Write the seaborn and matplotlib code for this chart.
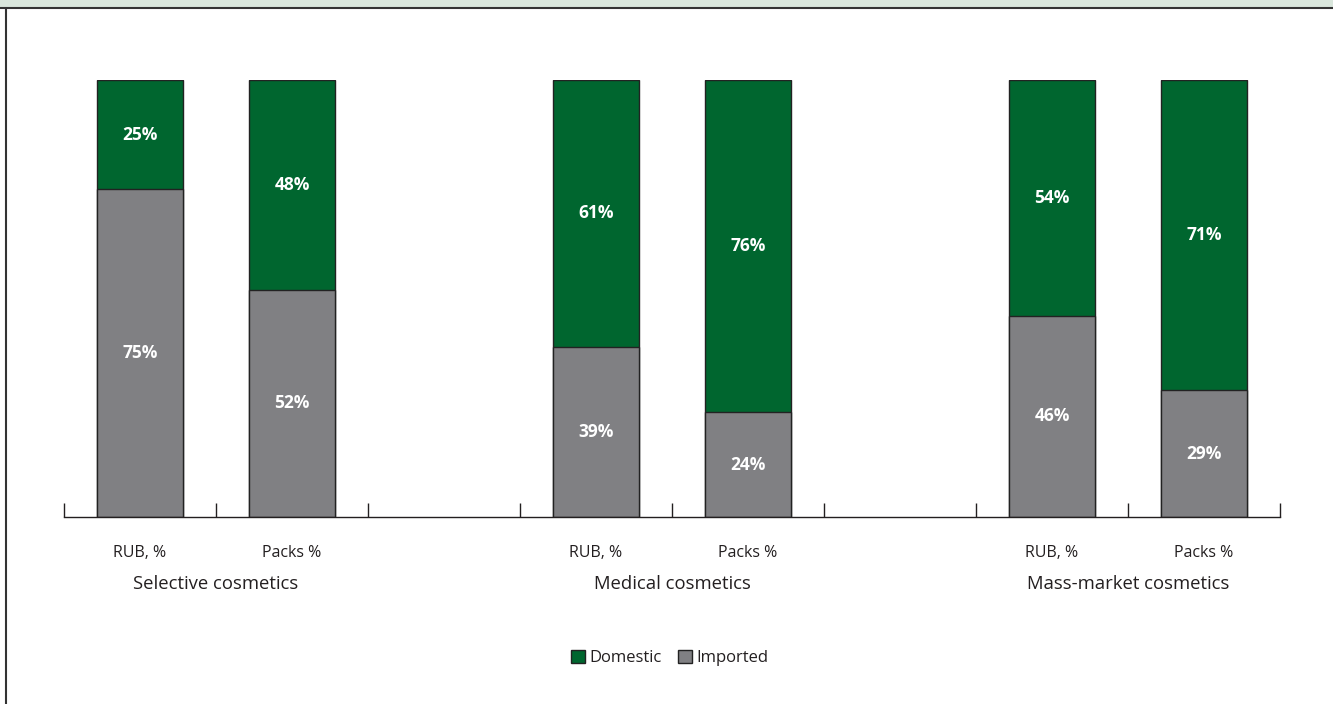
import numpy as np
import pandas as pd
import matplotlib.pyplot as plt
import seaborn as sns
from matplotlib.patches import Patch, Rectangle
from matplotlib.lines import Line2D

# data
groups = ['Selective cosmetics', 'Medical cosmetics', 'Mass-market cosmetics']
measures = ['RUB, %', 'Packs %']
domestic = [25, 48, 61, 76, 54, 71]
imported = [75, 52, 39, 24, 46, 29]

green = '#00662f'
grey = '#808083'
edge = '#222222'
txt = '#231f20'

sns.set_theme(style='white')
plt.rcParams['font.family'] = ['Open Sans', 'DejaVu Sans']

rows = []
i = 0
for g_i, g in enumerate(groups):
    for m_i, m in enumerate(measures):
        rows.append({'group': g, 'measure': m, 'pos': g_i * 3 + m_i,
                     'domestic': domestic[i], 'imported': imported[i],
                     'total': domestic[i] + imported[i]})
        i += 1
df = pd.DataFrame(rows)

fig = plt.figure(figsize=(13.33, 7.04), dpi=100)
ax = fig.add_axes([64 / 1333, 187 / 704, 1216 / 1333, 437 / 704])

# full stack in green, imported part drawn over it in grey
sns.barplot(data=df, x='pos', y='total', native_scale=True, width=0.566,
            color=green, edgecolor=edge, linewidth=1, saturation=1, ax=ax)
sns.barplot(data=df, x='pos', y='imported', native_scale=True, width=0.566,
            color=grey, edgecolor=edge, linewidth=1, saturation=1, ax=ax)

for _, r in df.iterrows():
    ax.text(r['pos'], r['imported'] / 2, f"{r['imported']}%", ha='center', va='center',
            color='white', fontsize=12.5, fontweight='bold')
    ax.text(r['pos'], r['imported'] + r['domestic'] / 2, f"{r['domestic']}%", ha='center',
            va='center', color='white', fontsize=12.5, fontweight='bold')
    ax.text(r['pos'], -8.2, r['measure'], ha='center', va='center', color=txt, fontsize=11.5)

for g_i, g in enumerate(groups):
    ax.text(g_i * 3 + 0.5, -15.3, g, ha='center', va='center', color=txt, fontsize=13.3)

ax.set_xlim(-0.5, 7.5)
ax.set_ylim(0, 100)
ax.set_xticks(np.arange(-0.5, 8, 1))
ax.set_xticklabels([])
ax.set_yticks([])
ax.tick_params(axis='x', direction='in', length=10, width=1, color=txt, bottom=True)
ax.set_xlabel('')
ax.set_ylabel('')
for s in ['top', 'right', 'left']:
    ax.spines[s].set_visible(False)
ax.spines['bottom'].set_color(txt)
ax.spines['bottom'].set_linewidth(1)

# header band and left frame line
fig.patches.append(Rectangle((0, 1 - 7 / 704), 1, 7 / 704, transform=fig.transFigure,
                             facecolor='#d9e6dc', edgecolor='none'))
fig.lines.append(Line2D([0, 1], [1 - 7.5 / 704] * 2, transform=fig.transFigure,
                        color='#333333', linewidth=1.5))
fig.lines.append(Line2D([5.5 / 1333] * 2, [0, 1 - 7.5 / 704], transform=fig.transFigure,
                        color='#333333', linewidth=1.5))

handles = [Patch(facecolor=green, edgecolor=edge, label='Domestic'),
           Patch(facecolor=grey, edgecolor=edge, label='Imported')]
fig.legend(handles=handles, loc='center', bbox_to_anchor=(670 / 1333, 1 - 658 / 704),
           ncol=2, frameon=False, fontsize=12, handlelength=0.8, handleheight=0.8,
           handletextpad=0.3, columnspacing=1.0, labelcolor=txt)

fig.savefig('out.png', dpi=100)
